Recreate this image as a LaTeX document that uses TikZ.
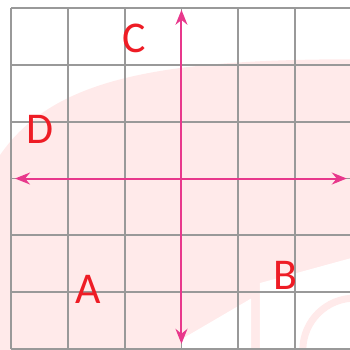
\documentclass[tikz,border=0pt]{standalone}
\usepackage{fontspec}
\newfontfamily\labelfont{Carlito}
\usetikzlibrary{arrows.meta}
\definecolor{axispink}{RGB}{232,56,140}
\definecolor{labelred}{RGB}{238,28,37}
\definecolor{markpink}{RGB}{255,234,234}
\begin{document}
\begin{tikzpicture}[
    gridline/.style={draw=black!40, line width=0.9pt},
    axisline/.style={draw=axispink, line width=1pt, {Stealth[length=7.5pt,width=6pt]}-{Stealth[length=7.5pt,width=6pt]}},
    pointlabel/.style={text=labelred, font=\labelfont\fontsize{22}{24}\selectfont, inner sep=0pt}
]
    \useasboundingbox (-3.195,-3.002) rectangle (2.967,3.143);
    \clip (-3.195,-3.002) rectangle (2.967,3.143);

    % Faint watermark in the background
    \fill[markpink] (-3.3,0.25) .. controls (-2.4,1.75) and (-0.5,2.1) .. (3.1,2.1)
        -- (3.1,-3.1) -- (-3.3,-3.1) -- cycle;
    \fill[white] (0.097,-2.773) -- (1.224,-2.114) -- (1.224,-3.1) -- (0.097,-3.1) -- cycle;
    \fill[white] (0.0,-2.83) -- (0.097,-2.773) -- (0.097,-3.1) -- (0.0,-3.1) -- cycle;
    \fill[white] (1.382,-1.84) -- (3.1,-1.37) -- (3.1,-3.1) -- (1.382,-3.1) -- cycle;
    \draw[markpink, line width=3.5pt] (2.14,-3.1) arc[start angle=185, end angle=95, radius=0.915];

    % Square grid
    \draw[gridline] (-3,-3) grid (3,3);

    % Axes
    \coordinate (xleft) at (-2.93,0);
    \coordinate (xright) at (2.91,0);
    \coordinate (ybottom) at (0,-2.91);
    \coordinate (ytop) at (0,2.97);
    \draw[axisline] (xleft) -- (xright);
    \draw[axisline] (ybottom) -- (ytop);

    % Points
    \node[pointlabel] (ptC) at (-0.836,2.47) {C};
    \node[pointlabel] (ptD) at (-2.49,0.87) {D};
    \node[pointlabel] (ptA) at (-1.646,-1.96) {A};
    \node[pointlabel] (ptB) at (1.83,-1.71) {B};
\end{tikzpicture}
\end{document}
